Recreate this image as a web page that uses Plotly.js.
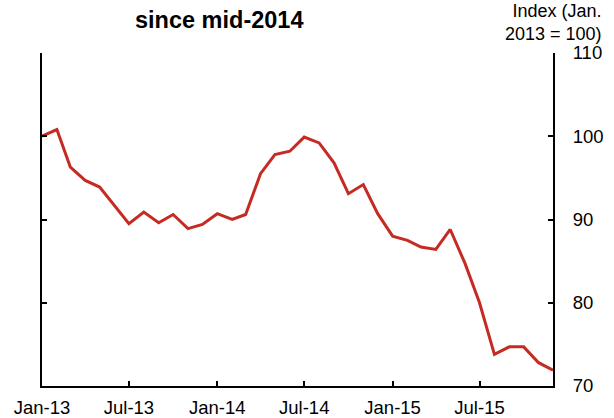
<!DOCTYPE html>
<html>
<head>
<meta charset="utf-8">
<script src="https://cdn.plot.ly/plotly-3.0.1.min.js"></script>
<style>
html,body{margin:0;padding:0;background:#fff;}
#chart{width:614px;height:418px;}
</style>
</head>
<body>
<div id="chart"></div>
<script>
// Monthly dates Jan-2013 .. Dec-2015
const months = [
  '2013-01-01','2013-02-01','2013-03-01','2013-04-01','2013-05-01','2013-06-01',
  '2013-07-01','2013-08-01','2013-09-01','2013-10-01','2013-11-01','2013-12-01',
  '2014-01-01','2014-02-01','2014-03-01','2014-04-01','2014-05-01','2014-06-01',
  '2014-07-01','2014-08-01','2014-09-01','2014-10-01','2014-11-01','2014-12-01',
  '2015-01-01','2015-02-01','2015-03-01','2015-04-01','2015-05-01','2015-06-01',
  '2015-07-01','2015-08-01','2015-09-01','2015-10-01','2015-11-01','2015-12-01'
];
const indexValues = [
  100.0, 100.8, 96.3, 94.7, 93.9, 91.7, 89.5, 90.9, 89.6, 90.6, 88.9, 89.4,
  90.7, 90.0, 90.6, 95.5, 97.8, 98.2, 99.9, 99.2, 96.8, 93.1, 94.2, 90.7,
  88.0, 87.5, 86.7, 86.4, 88.8, 84.7, 80.0, 73.8, 74.7, 74.7, 72.8, 71.9
];
const xTickVals = ['2013-01-01','2013-07-01','2014-01-01','2014-07-01','2015-01-01','2015-07-01'];
const xTickText = ['Jan-13','Jul-13','Jan-14','Jul-14','Jan-15','Jul-15'];
const yTickVals = [70, 80, 90, 100, 110];
const titleText = 'since mid-2014';
const yTitleText = 'Index (Jan.<br>2013 = 100)';

const FONT = 'Liberation Sans, Arial, Helvetica, sans-serif';

const trace = {
  x: months,
  y: indexValues,
  type: 'scatter',
  mode: 'lines',
  line: {color: '#c52b23', width: 3},
  hoverinfo: 'skip'
};

const layout = {
  width: 614,
  height: 418,
  margin: {l: 42, r: 61, t: 53, b: 32, pad: 0},
  paper_bgcolor: '#ffffff',
  plot_bgcolor: '#ffffff',
  showlegend: false,
  font: {family: FONT, color: '#000', size: 18},
  xaxis: {
    type: 'date',
    range: ['2013-01-01', '2015-12-01'],
    tickvals: xTickVals,
    ticktext: xTickText,
    showgrid: false,
    zeroline: false,
    showline: true,
    linecolor: '#000',
    linewidth: 2,
    ticks: 'inside',
    ticklen: 5,
    tickwidth: 2,
    tickcolor: '#000',
    ticklabelstandoff: 4,
    tickfont: {family: FONT, size: 18.5, color: '#000'},
    fixedrange: true
  },
  yaxis: {
    range: [70, 110],
    tickvals: yTickVals,
    side: 'right',
    showgrid: false,
    zeroline: false,
    showline: true,
    mirror: 'ticks',
    linecolor: '#000',
    linewidth: 2,
    ticks: 'inside',
    ticklen: 5,
    tickwidth: 2,
    tickcolor: '#000',
    ticklabelstandoff: 14,
    tickfont: {family: FONT, size: 18.5, color: '#000'},
    fixedrange: true
  },
  annotations: [
    {
      text: '<b>' + titleText + '</b>',
      xref: 'paper', yref: 'paper',
      x: 0.3477, y: 1.10,
      xanchor: 'center', yanchor: 'middle',
      showarrow: false,
      font: {family: FONT, size: 23.5, color: '#000'}
    },
    {
      text: yTitleText,
      xref: 'paper', yref: 'paper',
      x: 1.1, y: 1.022,
      xanchor: 'right', yanchor: 'bottom',
      align: 'right',
      showarrow: false,
      font: {family: FONT, size: 18, color: '#000'}
    }
  ]
};

Plotly.newPlot('chart', [trace], layout, {displayModeBar: false, staticPlot: true});
</script>
</body>
</html>
